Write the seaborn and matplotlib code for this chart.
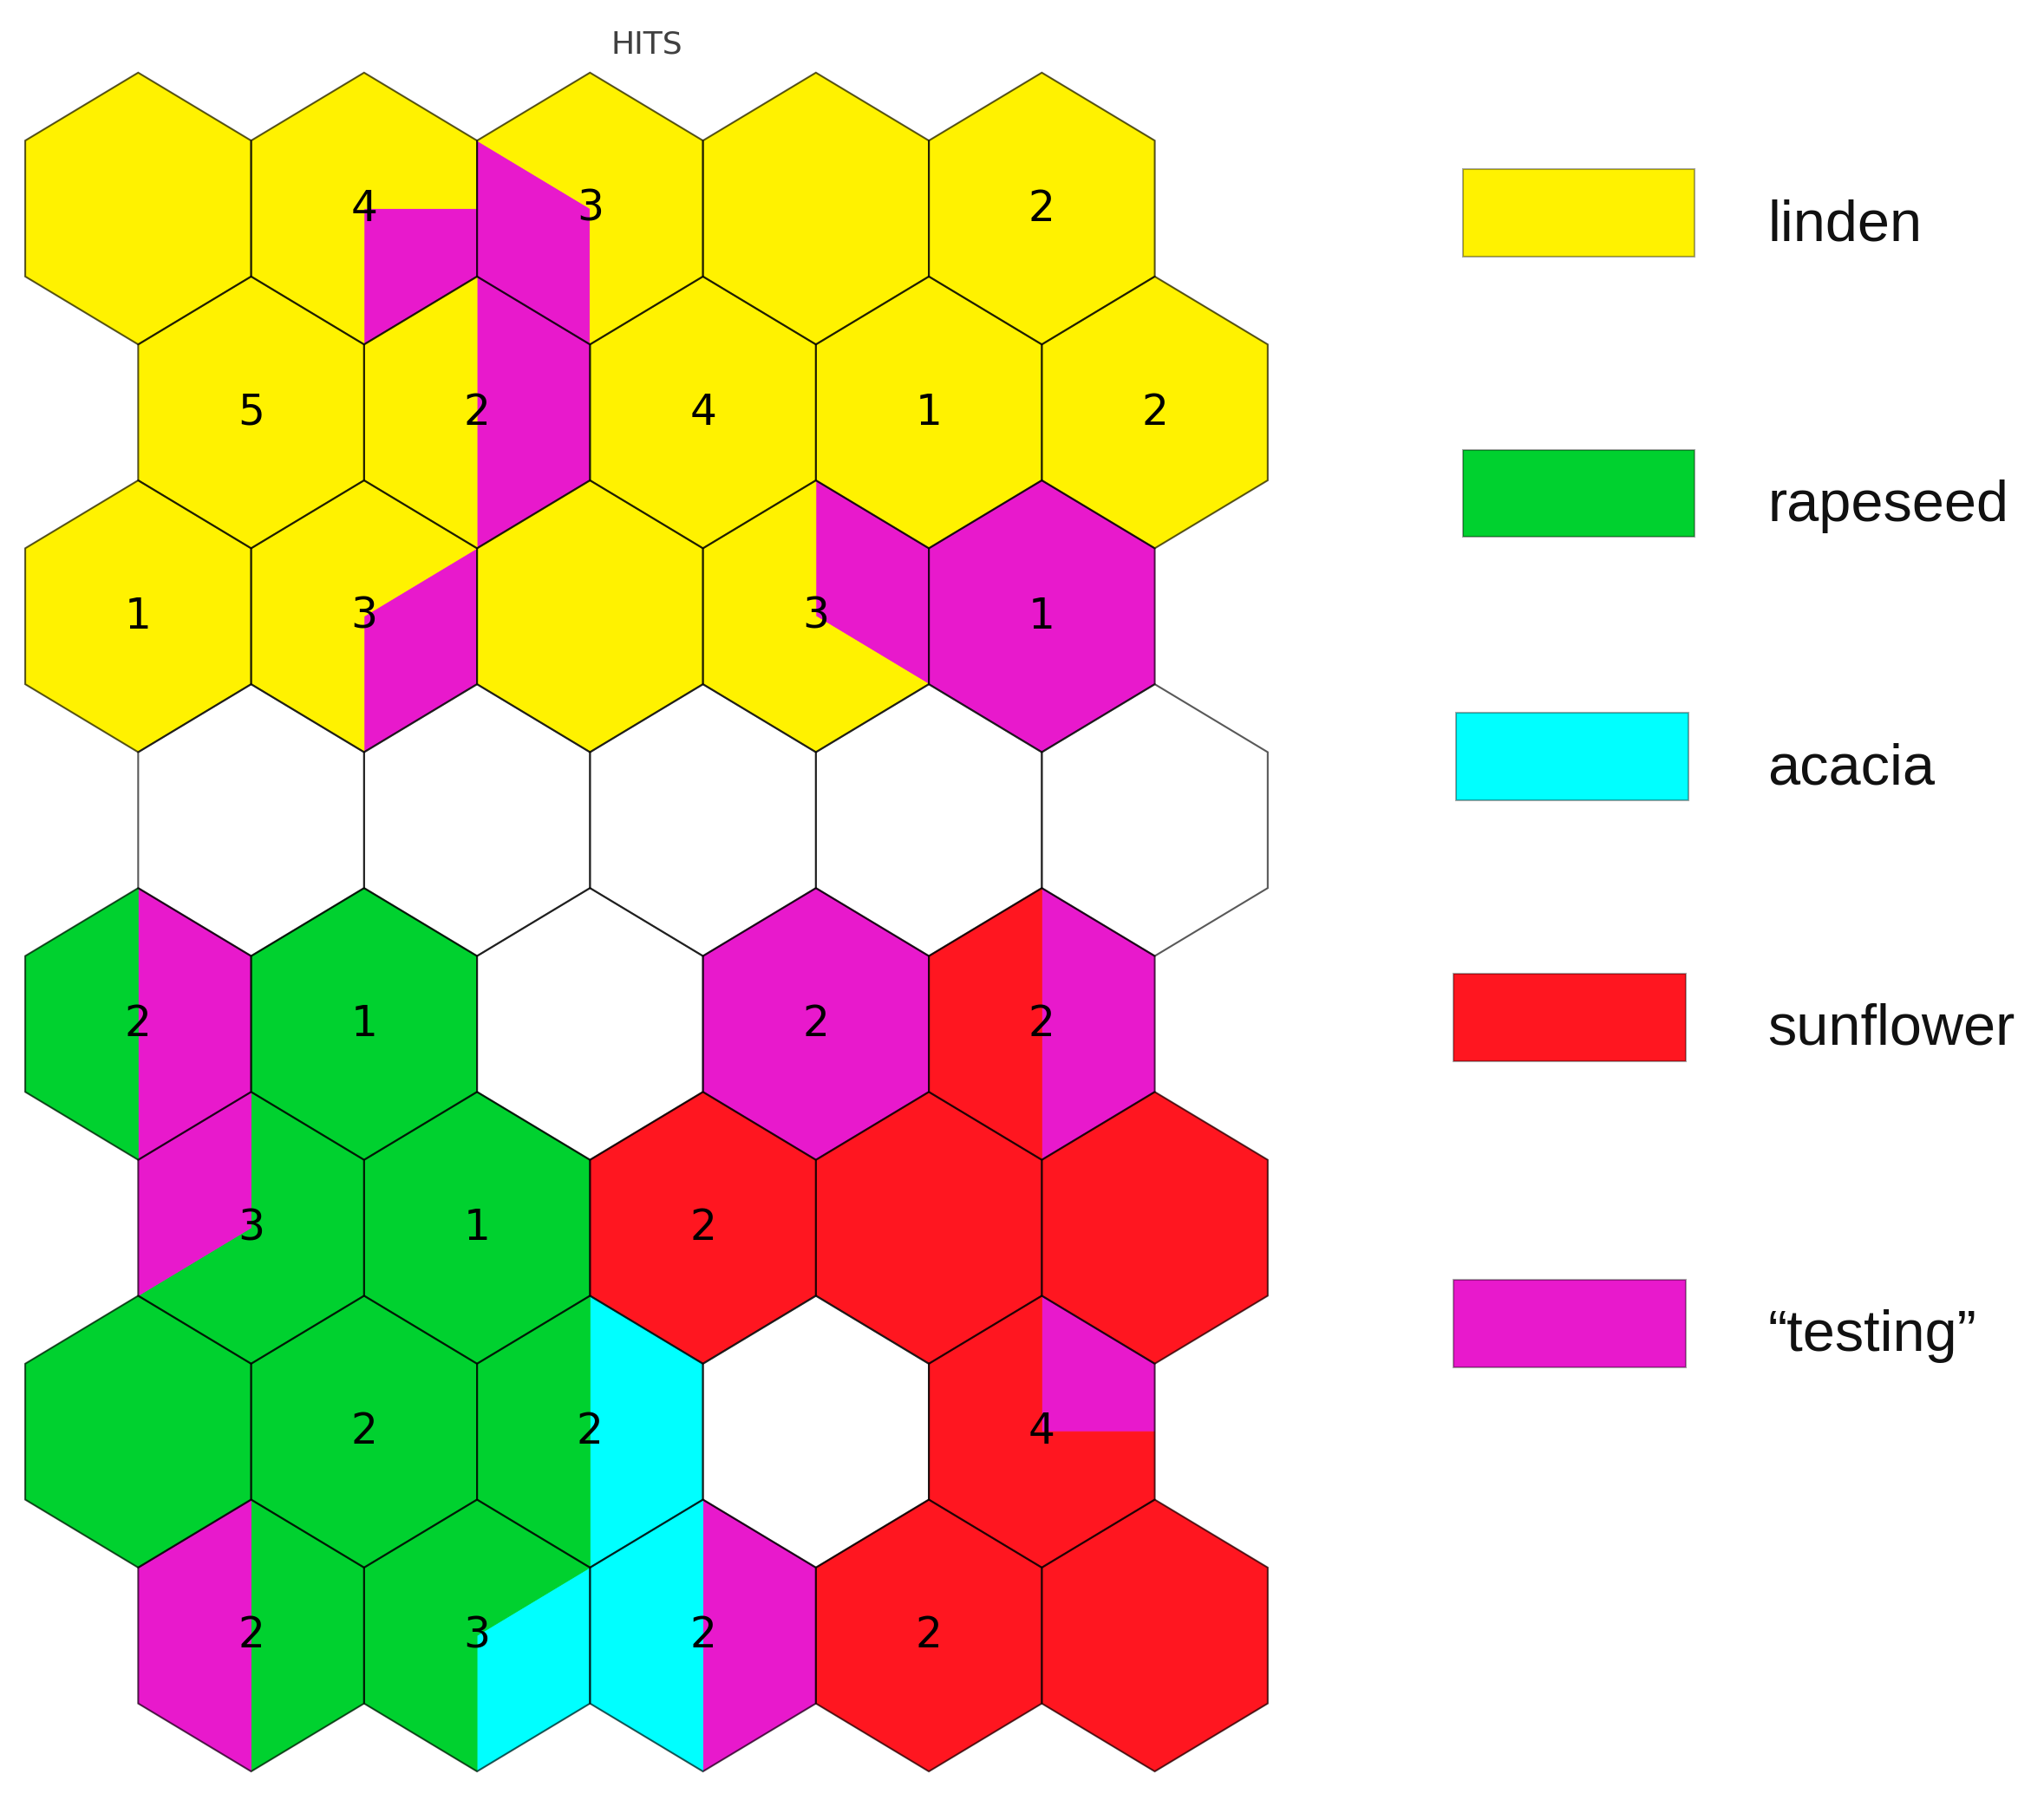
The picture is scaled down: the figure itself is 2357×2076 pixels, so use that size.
import numpy as np
import matplotlib
matplotlib.use("Agg")
import matplotlib.pyplot as plt
import seaborn as sns
from matplotlib.patches import Polygon, Rectangle

# classes of honey and their colours
class_codes = ["L", "R", "A", "S", "T"]
class_colors = ["#FFF200", "#00D12F", "#00FFFF", "#FF1620", "#E819CC"]
legend_labels = ["linden", "rapeseed", "acacia", "sunflower", "\u201ctesting\u201d"]

# number of hits per neuron (0 = no label shown)
hits = [
    [0, 4, 3, 0, 2],
    [5, 2, 4, 1, 2],
    [1, 3, 0, 3, 1],
    [0, 0, 0, 0, 0],
    [2, 1, 0, 2, 2],
    [3, 1, 2, 0, 0],
    [0, 2, 2, 0, 4],
    [2, 3, 2, 2, 0],
]

# class of each 1/12 slice of a hexagon, clockwise from the top vertex ('.' = empty)
slices = [
    ["LLLLLLLLLLLL", "LLLTTTLLLLLL", "LLLLLLTTTTLL", "LLLLLLLLLLLL", "LLLLLLLLLLLL"],
    ["LLLLLLLLLLLL", "TTTTTTLLLLLL", "LLLLLLLLLLLL", "LLLLLLLLLLLL", "LLLLLLLLLLLL"],
    ["LLLLLLLLLLLL", "LLTTTTLLLLLL", "LLLLLLLLLLLL", "TTTTLLLLLLLL", "TTTTTTTTTTTT"],
    ["............", "............", "............", "............", "............"],
    ["TTTTTTRRRRRR", "RRRRRRRRRRRR", "............", "TTTTTTTTTTTT", "TTTTTTSSSSSS"],
    ["RRRRRRRRTTTT", "RRRRRRRRRRRR", "SSSSSSSSSSSS", "SSSSSSSSSSSS", "SSSSSSSSSSSS"],
    ["RRRRRRRRRRRR", "RRRRRRRRRRRR", "AAAAAARRRRRR", "............", "TTTSSSSSSSSS"],
    ["RRRRRRTTTTTT", "RRAAAARRRRRR", "TTTTTTAAAAAA", "SSSSSSSSSSSS", "SSSSSSSSSSSS"],
]

color_of = dict(zip(class_codes, class_colors))
color_of["."] = "white"

# layout (reference pixels of the 1568x1381 view)
W_PX, H_PX = 1568, 1381
X0_PX, COL_PX = 106.0, 173.3
Y0_PX, ROW_PX = 160.0, 156.4

R = 1 / np.sqrt(3)
DY = 1.5 * R
n_rows, n_cols = len(hits), len(hits[0])

sns.set_theme(style="white")
fig = plt.figure(figsize=(23.57, 20.76), dpi=100)

# hex axes placed so that data units map onto the reference grid
xlim = (-0.6, n_cols + 0.1)
ylim = (-0.65, (n_rows - 1) * DY + 0.65)
px_per_y = ROW_PX / DY
left = (X0_PX + xlim[0] * COL_PX) / W_PX
right = (X0_PX + xlim[1] * COL_PX) / W_PX
top = 1 - (Y0_PX + ylim[0] * px_per_y) / H_PX
bottom = 1 - (Y0_PX + ylim[1] * px_per_y) / H_PX
ax = fig.add_axes([left, bottom, right - left, top - bottom])
ax.set_xlim(*xlim)
ax.set_ylim(ylim[1], ylim[0])
ax.axis("off")

angles = np.deg2rad(90 - 30 * np.arange(13))
radii = np.where(np.arange(13) % 2 == 0, R, R * np.cos(np.pi / 6))


def ring(cx, cy):
    return np.column_stack([cx + radii * np.cos(angles), cy - radii * np.sin(angles)])


for r in range(n_rows):
    for c in range(n_cols):
        cx = c + 0.5 * (r % 2)
        cy = r * DY
        pts = ring(cx, cy)
        s = slices[r][c]
        # merge consecutive slices of the same class into one polygon
        starts = [i for i in range(12) if s[i] != s[i - 1]]
        if not starts:
            ax.add_patch(Polygon(pts[0:12:2], closed=True, facecolor=color_of[s[0]],
                                 edgecolor=color_of[s[0]], lw=0.6, zorder=1))
        else:
            for k, st in enumerate(starts):
                en = starts[(k + 1) % len(starts)]
                idx = [(st + j) % 12 for j in range((en - st) % 12 + 1)]
                poly = np.vstack([[cx, cy], pts[idx]])
                ax.add_patch(Polygon(poly, closed=True, facecolor=color_of[s[st]],
                                     edgecolor=color_of[s[st]], lw=0.6, zorder=1))
        ax.add_patch(Polygon(pts[0:12:2], closed=True, fill=False,
                             edgecolor=(0, 0, 0, 0.65), lw=1.5, zorder=2))
        if hits[r][c] > 0:
            ax.text(cx, cy, str(hits[r][c]), ha="center", va="center",
                    fontsize=35, color="black", family="DejaVu Sans", zorder=3)

ax.set_title("HITS", fontsize=26, color="#404040", pad=2, family="DejaVu Sans")

# legend: boxes and labels
box_x = [1122, 1122, 1117, 1115, 1115]
box_y = [130, 345, 547, 747, 982]
box_w, box_h = 178, 67
lax = fig.add_axes([0, 0, 1, 1], facecolor="none")
lax.set_xlim(0, W_PX)
lax.set_ylim(H_PX, 0)
lax.axis("off")
for bx, by, col, lab in zip(box_x, box_y, class_colors, legend_labels):
    lax.add_patch(Rectangle((bx, by), box_w, box_h, facecolor=col,
                            edgecolor=(0, 0, 0, 0.35), lw=1.5))
    lax.text(1356, by + box_h / 2 + 21, lab, ha="left", va="baseline", fontsize=48,
             color="#111111", family=["Liberation Sans", "DejaVu Sans"])

fig.savefig("out.png", dpi=100)
